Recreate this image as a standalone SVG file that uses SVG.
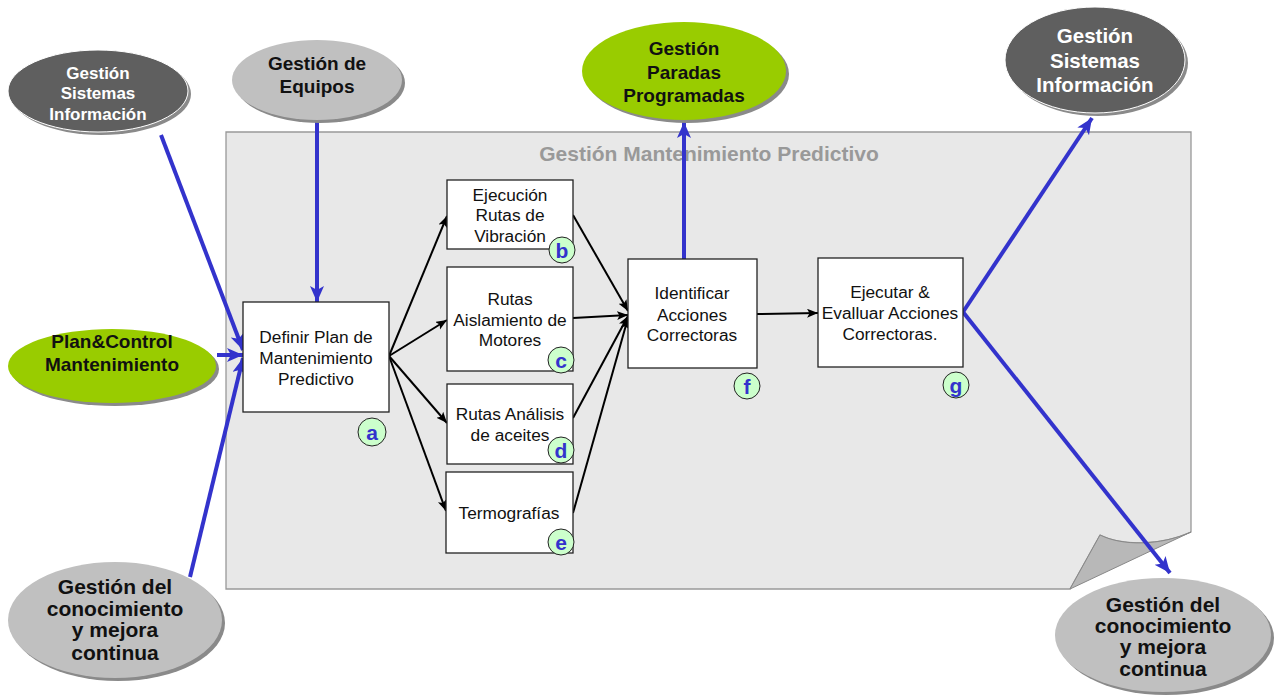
<svg xmlns="http://www.w3.org/2000/svg" width="1277" height="695" viewBox="0 0 1277 695">
  <defs>
    <marker id="arrBlue" markerUnits="userSpaceOnUse" markerWidth="18" markerHeight="16" refX="16" refY="7" orient="auto">
      <path d="M0,0 L16,7 L0,14 L4,7 z" fill="#3333cc"/>
    </marker>
    <marker id="arrBlack" markerUnits="userSpaceOnUse" markerWidth="12" markerHeight="10" refX="11" refY="4.5" orient="auto">
      <path d="M0,0 L11,4.5 L0,9 L2.5,4.5 z" fill="#000"/>
    </marker>
    <style>
      .box { fill: #ffffff; stroke: #222; stroke-width: 1.3; }
      .btxt { font-family: "Liberation Sans", Arial, sans-serif; font-size: 17.3px; fill: #111; text-anchor: middle; }
      .tag { fill: #ccffcc; stroke: #222; stroke-width: 1; }
      .tagtxt { font-family: "Liberation Sans", Arial, sans-serif; font-size: 21px; font-weight: bold; fill: #3333cc; text-anchor: middle; }
      .etxt { font-family: "Liberation Sans", Arial, sans-serif; font-weight: bold; text-anchor: middle; fill: #111; }
      .wtxt { font-family: "Liberation Sans", Arial, sans-serif; font-weight: bold; text-anchor: middle; fill: #ffffff; }
      .dark { fill: #5f5f5f; stroke: #ffffff; stroke-width: 1; }
      .light { fill: #c0c0c0; }
      .green { fill: #99cc00; }
      .shadow { fill: #8a8a8a; }
      .blue { stroke: #3333cc; stroke-width: 4; fill: none; marker-end: url(#arrBlue); }
      .black { stroke: #000; stroke-width: 2; fill: none; marker-end: url(#arrBlack); }
    </style>
  </defs>

  <!-- background sheet with curled corner -->
  <g id="sheet">
    <path d="M226,132 H1191 V532 C1160,546 1122,546 1100,535 L1070,589 H226 Z" fill="#e8e8e8" stroke="#999" stroke-width="1.3"/>
    <path d="M1100,535 C1122,546 1160,546 1191,532 L1070,589 Z" fill="#b8b8b8" stroke="#888" stroke-width="1"/>
    <text x="709" y="161" font-family="Liberation Sans, Arial, sans-serif" font-size="21" font-weight="bold" fill="#999" text-anchor="middle">Gestión Mantenimiento Predictivo</text>
  </g>

  <!-- connectors -->
  <g id="connectors">
    <line class="blue" x1="161" y1="135" x2="243" y2="350"/>
    <line class="blue" x1="217" y1="355" x2="243" y2="355"/>
    <line class="blue" x1="190" y1="577" x2="243" y2="358"/>
    <line class="blue" x1="317" y1="120" x2="317" y2="302"/>
    <line class="blue" x1="684" y1="263" x2="684" y2="122"/>
    <line class="blue" x1="963" y1="312" x2="1092" y2="118"/>
    <line class="blue" x1="963" y1="312" x2="1170" y2="573"/>

    <line class="black" x1="389" y1="356" x2="447" y2="216"/>
    <line class="black" x1="389" y1="356" x2="447" y2="320"/>
    <line class="black" x1="389" y1="356" x2="447" y2="423"/>
    <line class="black" x1="389" y1="356" x2="446" y2="511"/>
    <line class="black" x1="573" y1="215" x2="628" y2="311"/>
    <line class="black" x1="573" y1="318" x2="628" y2="315"/>
    <line class="black" x1="573" y1="418" x2="628" y2="316"/>
    <line class="black" x1="573" y1="513" x2="628" y2="318"/>
    <line class="black" x1="757" y1="314" x2="818" y2="313"/>
  </g>

  <!-- external processes -->
  <g id="gsi-left">
    <ellipse class="shadow" cx="101" cy="94" rx="90" ry="41"/>
    <ellipse class="dark" cx="98" cy="91" rx="90" ry="41"/>
    <text class="wtxt" font-size="17" x="98" y="79">Gestión</text>
    <text class="wtxt" font-size="17" x="98" y="99">Sistemas</text>
    <text class="wtxt" font-size="17" x="98" y="120">Información</text>
  </g>

  <g id="equipos">
    <ellipse class="shadow" cx="320" cy="83" rx="85" ry="40"/>
    <ellipse class="light" cx="317" cy="80" rx="85" ry="40"/>
    <text class="etxt" font-size="19" x="317" y="70">Gestión de</text>
    <text class="etxt" font-size="19" x="317" y="93">Equipos</text>
  </g>

  <g id="paradas">
    <ellipse class="shadow" cx="687" cy="74" rx="102" ry="49"/>
    <ellipse class="green" cx="684" cy="71" rx="102" ry="49"/>
    <text class="etxt" font-size="19" x="684" y="55">Gestión</text>
    <text class="etxt" font-size="19" x="684" y="79">Paradas</text>
    <text class="etxt" font-size="19" x="684" y="102">Programadas</text>
  </g>

  <g id="gsi-right">
    <ellipse class="shadow" cx="1098" cy="63" rx="90" ry="53"/>
    <ellipse class="dark" cx="1095" cy="60" rx="90" ry="53"/>
    <text class="wtxt" font-size="20.5" x="1095" y="43">Gestión</text>
    <text class="wtxt" font-size="20.5" x="1095" y="68">Sistemas</text>
    <text class="wtxt" font-size="20.5" x="1095" y="92">Información</text>
  </g>

  <g id="plan-control">
    <ellipse class="shadow" cx="115" cy="369" rx="104" ry="37"/>
    <ellipse class="green" cx="112" cy="366" rx="104" ry="37"/>
    <text class="etxt" font-size="19" x="112" y="348">Plan&amp;Control</text>
    <text class="etxt" font-size="19" x="112" y="371">Mantenimiento</text>
  </g>

  <g id="conocimiento-left">
    <ellipse class="shadow" cx="118" cy="623" rx="107" ry="58"/>
    <ellipse class="light" cx="115" cy="620" rx="107" ry="58"/>
    <text class="etxt" font-size="21" x="115" y="594">Gestión del</text>
    <text class="etxt" font-size="21" x="115" y="616">conocimiento</text>
    <text class="etxt" font-size="21" x="115" y="637">y mejora</text>
    <text class="etxt" font-size="21" x="115" y="660">continua</text>
  </g>

  <g id="conocimiento-right">
    <ellipse class="shadow" cx="1166" cy="638" rx="108" ry="57"/>
    <ellipse class="light" cx="1163" cy="635" rx="108" ry="57"/>
    <text class="etxt" font-size="21" x="1163" y="612">Gestión del</text>
    <text class="etxt" font-size="21" x="1163" y="633">conocimiento</text>
    <text class="etxt" font-size="21" x="1163" y="654">y mejora</text>
    <text class="etxt" font-size="21" x="1163" y="676">continua</text>
  </g>

  <!-- activities -->
  <g id="node-a">
    <rect class="box" x="243" y="302" width="146" height="110"/>
    <text class="btxt" x="316" y="343">Definir Plan de</text>
    <text class="btxt" x="316" y="364">Mantenimiento</text>
    <text class="btxt" x="316" y="385">Predictivo</text>
    <circle class="tag" cx="372" cy="432" r="14"/>
    <text class="tagtxt" x="372" y="440">a</text>
  </g>

  <g id="node-b">
    <rect class="box" x="447" y="180" width="126" height="69"/>
    <text class="btxt" x="510" y="201">Ejecución</text>
    <text class="btxt" x="510" y="221">Rutas de</text>
    <text class="btxt" x="510" y="242">Vibración</text>
    <circle class="tag" cx="562" cy="250" r="13"/>
    <text class="tagtxt" x="562" y="258">b</text>
  </g>

  <g id="node-c">
    <rect class="box" x="447" y="267" width="126" height="104"/>
    <text class="btxt" x="510" y="305">Rutas</text>
    <text class="btxt" x="510" y="326">Aislamiento de</text>
    <text class="btxt" x="510" y="346">Motores</text>
    <circle class="tag" cx="561" cy="360" r="13"/>
    <text class="tagtxt" x="561" y="368">c</text>
  </g>

  <g id="node-d">
    <rect class="box" x="447" y="384" width="126" height="80"/>
    <text class="btxt" x="510" y="420">Rutas Análisis</text>
    <text class="btxt" x="510" y="441">de aceites</text>
    <circle class="tag" cx="561" cy="450" r="13"/>
    <text class="tagtxt" x="561" y="458">d</text>
  </g>

  <g id="node-e">
    <rect class="box" x="446" y="472" width="127" height="81"/>
    <text class="btxt" x="509" y="519">Termografías</text>
    <circle class="tag" cx="561" cy="542" r="13"/>
    <text class="tagtxt" x="561" y="550">e</text>
  </g>

  <g id="node-f">
    <rect class="box" x="628" y="259" width="129" height="109"/>
    <text class="btxt" x="692" y="299">Identificar</text>
    <text class="btxt" x="692" y="321">Acciones</text>
    <text class="btxt" x="692" y="341">Correctoras</text>
    <circle class="tag" cx="747" cy="386" r="13"/>
    <text class="tagtxt" x="747" y="394">f</text>
  </g>

  <g id="node-g">
    <rect class="box" x="818" y="258" width="145" height="109"/>
    <text class="btxt" x="890" y="298">Ejecutar &amp;</text>
    <text class="btxt" x="890" y="319">Evalluar Acciones</text>
    <text class="btxt" x="890" y="340">Correctoras.</text>
    <circle class="tag" cx="956" cy="385" r="13"/>
    <text class="tagtxt" x="956" y="393">g</text>
  </g>
</svg>
